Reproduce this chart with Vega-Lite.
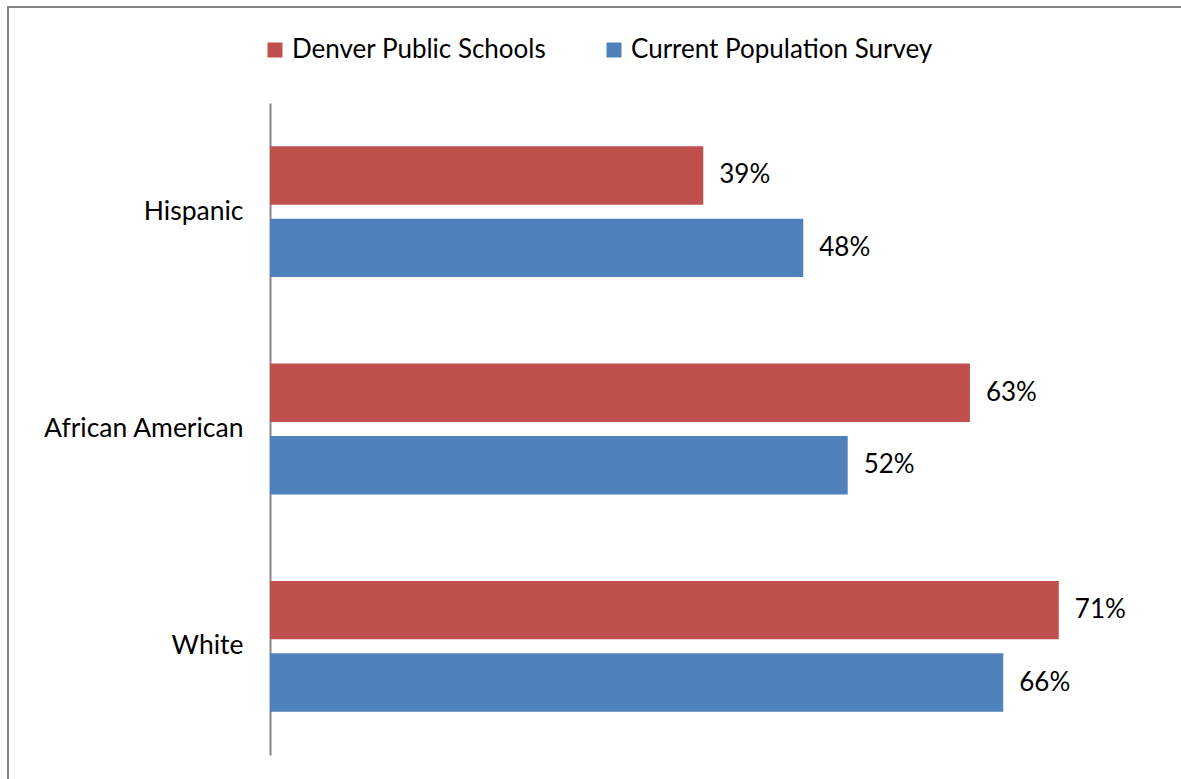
{
  "$schema": "https://vega.github.io/schema/vega-lite/v6.json",
  "autosize": {"type": "none"},
  "width": 1175,
  "height": 774,
  "padding": {"left": 8, "top": 7, "right": -2, "bottom": -2},
  "background": "white",
  "config": {"view": {"stroke": "#868686", "strokeWidth": 2}, "font": "Lato"},
  "data": {
    "values": [
      {"group": "Hispanic", "series": "Denver Public Schools", "value": 0.39},
      {"group": "Hispanic", "series": "Current Population Survey", "value": 0.48},
      {"group": "African American", "series": "Denver Public Schools", "value": 0.63},
      {"group": "African American", "series": "Current Population Survey", "value": 0.52},
      {"group": "White", "series": "Denver Public Schools", "value": 0.71},
      {"group": "White", "series": "Current Population Survey", "value": 0.66}
    ]
  },
  "encoding": {
    "y": {
      "field": "group",
      "type": "nominal",
      "sort": ["Hispanic", "African American", "White"],
      "scale": {"range": [96, 748], "paddingInner": 0, "paddingOuter": 0},
      "axis": {
        "title": null,
        "offset": -262,
        "domainColor": "#868686",
        "domainWidth": 2,
        "ticks": false,
        "tickSize": 0,
        "labelPadding": 27,
        "labelFontSize": 26.5,
        "labelFontWeight": 400,
        "labelColor": "black",
        "labelFont": "Lato",
        "labelLimit": 0
      }
    },
    "yOffset": {
      "field": "series",
      "type": "nominal",
      "sort": ["Denver Public Schools", "Current Population Survey"],
      "scale": {"paddingInner": 0.1944, "paddingOuter": 0.5972}
    },
    "x": {
      "field": "value",
      "type": "quantitative",
      "scale": {"domain": [-0.23582, 0.82179], "nice": false, "zero": false},
      "axis": null
    }
  },
  "layer": [
    {
      "mark": {"type": "bar"},
      "encoding": {
        "color": {
          "field": "series",
          "type": "nominal",
          "scale": {
            "domain": ["Denver Public Schools", "Current Population Survey"],
            "range": ["#C0504D", "#4F81BD"]
          },
          "legend": {
            "orient": "none",
            "legendX": 254,
            "legendY": 30,
            "direction": "horizontal",
            "title": null,
            "symbolType": "square",
            "symbolSize": 225,
            "symbolStrokeWidth": 0,
            "labelFontSize": 26,
            "labelFontWeight": 400,
            "labelFont": "Lato",
            "labelColor": "black",
            "labelOffset": 4,
            "labelLimit": 0,
            "columnPadding": 54,
            "padding": 0
          }
        }
      }
    },
    {
      "mark": {"type": "text", "align": "left", "baseline": "middle", "dx": 16, "fontSize": 26, "fontWeight": 400, "font": "Lato", "color": "black"},
      "encoding": {"text": {"field": "value", "type": "quantitative", "format": ".0%"}}
    }
  ]
}
